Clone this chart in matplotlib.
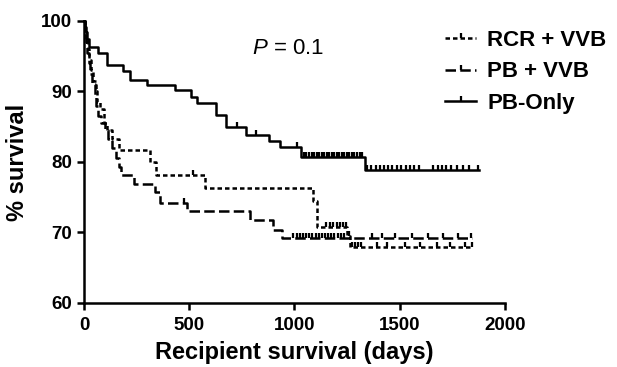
import numpy as np
import matplotlib; matplotlib.use("Agg")
import matplotlib.pyplot as plt
from matplotlib.path import Path
from matplotlib.lines import Line2D

plt.rcParams["font.family"] = ["Liberation Sans", "DejaVu Sans"]
plt.rcParams["mathtext.fontset"] = "custom"
plt.rcParams["mathtext.it"] = "Liberation Sans:italic"
plt.rcParams["mathtext.rm"] = "Liberation Sans"

# Kaplan-Meier steps (event day, survival % after it) and censoring days
rcr_t = [0, 5, 10, 18, 25, 35, 45, 55, 62, 75, 95, 110, 135, 165, 315, 342,
         575, 1086, 1105, 1248, 1265]
rcr_s = [100, 98.5, 97.5, 96, 94.5, 93, 91.5, 90, 88.5, 87.5, 85.5, 84.5, 83.3,
         81.7, 80.0, 78.2, 76.3, 74.5, 70.8, 69.5, 68.0]
rcr_end = 1845
rcr_cens = [519, 1150, 1170, 1185, 1200, 1215, 1230, 1245, 1258, 1272, 1286,
            1300, 1315, 1390, 1438, 1525, 1596, 1675, 1739, 1810, 1845]

pbv_t = [0, 5, 10, 16, 22, 30, 40, 50, 58, 66, 80, 100, 115, 135, 150, 165,
         177, 236, 337, 361, 488, 789, 899, 939]
pbv_s = [100, 98.5, 97, 95.5, 94, 92.5, 91, 89.5, 88, 86.5, 85.5, 84.5, 83.3,
         82, 80.5, 79.3, 78.1, 76.9, 75.7, 74.2, 73.0, 71.8, 70.4, 69.2]
pbv_end = 1845
pbv_cens = [475, 995, 1010, 1025, 1040, 1055, 1070, 1085, 1100, 1115, 1130,
            1145, 1160, 1175, 1190, 1205, 1220, 1235, 1367, 1414, 1477, 1557,
            1636, 1707, 1778, 1840]

pbo_t = [0, 3, 8, 14, 25, 68, 108, 183, 218, 298, 432, 508, 535, 626, 673,
         770, 877, 931, 1030, 1335]
pbo_s = [100, 99.2, 98.4, 97.5, 96.3, 95.4, 93.7, 92.9, 91.7, 90.9, 90.2, 89.2,
         88.3, 86.6, 84.9, 83.9, 83.0, 82.1, 80.7, 78.8]
pbo_end = 1875
pbo_cens = [725, 815, 1010, 1045, 1057, 1069, 1081, 1093, 1105, 1117, 1129,
            1141, 1153, 1165, 1177, 1189, 1201, 1213, 1225, 1237, 1249, 1261,
            1273, 1285, 1297, 1309, 1321, 1345, 1365, 1385, 1405, 1425, 1445,
            1465, 1485, 1505, 1530, 1550, 1570, 1590, 1660, 1680, 1700, 1720,
            1745, 1770, 1800, 1830, 1870]

labels = ["RCR + VVB", "PB + VVB", "PB-Only"]
p_text = r"$P$ = 0.1"

tick = Path([(0, 0), (0, 1)], [Path.MOVETO, Path.LINETO])
lw = 1.8
styles = [(0, (1.8, 1.2)), (0, (4.2, 1.7)), "-"]

fig = plt.figure(figsize=(6.17, 3.67), dpi=100)
ax = fig.add_axes([84/617, 1-303/367, 421/617, 282/367])

def km(t, s, end, cens, ls):
    t = np.array(t + [end]); s = np.array(s + [s[-1]])
    ax.step(t, s, where="post", color="k", lw=lw, ls=ls, clip_on=False)
    c = np.array(cens)
    sc = s[np.searchsorted(t, c, side="right") - 1]
    ax.plot(c, sc, ls="none", marker=tick, ms=6.5, mew=lw*0.9, color="k", clip_on=False)

for (t, s, e, c), ls in zip([(rcr_t, rcr_s, rcr_end, rcr_cens),
                            (pbv_t, pbv_s, pbv_end, pbv_cens),
                            (pbo_t, pbo_s, pbo_end, pbo_cens)], styles):
    km(t, s, e, c, ls)

ax.set_xlim(0, 2000); ax.set_ylim(60, 100)
ax.set_xticks([0, 500, 1000, 1500, 2000]); ax.set_yticks([60, 70, 80, 90, 100])
for sp in ["top", "right"]: ax.spines[sp].set_visible(False)
for sp in ["left", "bottom"]: ax.spines[sp].set_linewidth(1.8)
ax.tick_params(width=1.8, length=5, labelsize=13.5)
ax.tick_params(axis="x", pad=5); ax.tick_params(axis="y", pad=3.5)
for lab in ax.get_xticklabels() + ax.get_yticklabels(): lab.set_fontweight("bold")

ax.set_xlabel("Recipient survival (days)", fontsize=17, fontweight="bold", va="center")
ax.xaxis.set_label_coords(0.5, (303-352)/282)
ax.set_ylabel("% survival", fontsize=17, fontweight="bold", va="center")
ax.yaxis.set_label_coords((17.5-84)/421, 0.5)

ax.text((251.7-84)/421, (303-49)/282, p_text, transform=ax.transAxes,
        fontsize=16, ha="left", va="center")

handles = [Line2D([], [], color="k", lw=lw, ls=ls, marker=tick, ms=6.5, mew=lw*0.9)
           for ls in styles]
fig.legend(handles, labels, loc="upper left", bbox_to_anchor=(445/617, 1-30/367),
           frameon=False, prop=dict(size=16, weight="bold"), numpoints=1,
           handlelength=1.4, handletextpad=0.5, labelspacing=0.47,
           borderpad=0, borderaxespad=0)

fig.savefig("out.png", dpi=100)
